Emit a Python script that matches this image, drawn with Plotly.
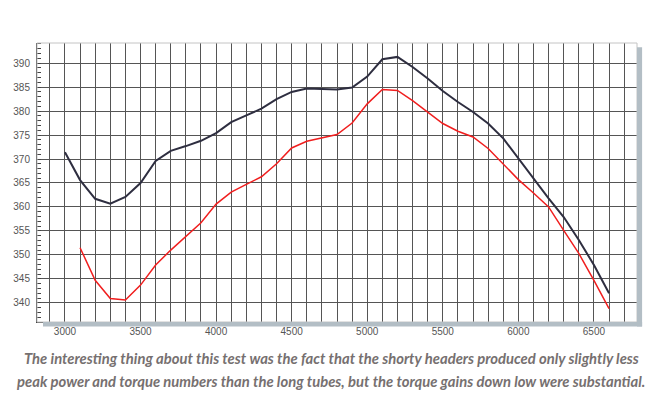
import plotly.graph_objects as go

rpm = list(range(3000, 6700, 100))
long_tube = [371.4, 365.6, 361.7, 360.7, 362.1, 365.0, 369.6, 371.7, 372.7, 373.8,
             375.4, 377.7, 379.1, 380.5, 382.5, 384.0, 384.7, 384.6, 384.5, 384.9,
             387.2, 390.8, 391.3, 389.2, 386.8, 384.2, 381.9, 379.8, 377.4, 374.3,
             370.1, 366.0, 361.8, 357.9, 353.1, 347.9, 342.0]
shorty_rpm = list(range(3100, 6700, 100))
shorty = [351.5, 344.7, 340.9, 340.6, 343.7, 347.9, 351.0, 353.9, 356.7,
          360.6, 363.1, 364.7, 366.3, 369.0, 372.3, 373.7, 374.4, 375.1, 377.5,
          381.5, 384.5, 384.3, 382.2, 379.8, 377.4, 375.8, 374.6, 372.2, 369.0,
          365.7, 362.9, 360.0, 355.1, 350.3, 344.7, 338.8]
x_ticks = [3000, 3500, 4000, 4500, 5000, 5500, 6000, 6500]
y_ticks = [340, 345, 350, 355, 360, 365, 370, 375, 380, 385, 390]
caption = ["The interesting thing about this test was the fact that the shorty headers produced only slightly less",
           "peak power and torque numbers than the long tubes, but the torque gains down low were substantial."]

fig = go.Figure()
fig.add_trace(go.Scatter(x=rpm, y=long_tube, mode="lines",
                         line=dict(color="#2e2e40", width=2), showlegend=False))
fig.add_trace(go.Scatter(x=shorty_rpm, y=shorty, mode="lines",
                         line=dict(color="#f01e1e", width=1.5), showlegend=False))

grid = "#555555"
fig.update_layout(
    width=669, height=400,
    margin=dict(l=37, r=32, t=43, b=78),
    paper_bgcolor="white", plot_bgcolor="white",
    xaxis=dict(range=[2815, 6785], tickvals=x_ticks, showgrid=True, gridcolor=grid, gridwidth=1,
               minor=dict(dtick=100, tick0=0, showgrid=True, gridcolor=grid, gridwidth=1),
               ticks="", showline=True, linecolor="#444", linewidth=1, zeroline=False,
               tickfont=dict(family="Liberation Sans, Arial", size=10, color="#555"),
               fixedrange=True),
    yaxis=dict(range=[336, 394.2], tickvals=y_ticks, showgrid=True, gridcolor=grid, gridwidth=1,
               ticks="", showline=True, linecolor="#333", linewidth=1, zeroline=False,
               minor=dict(dtick=1, tick0=0, ticks="inside", ticklen=4, tickcolor="#444", showgrid=False),
               tickfont=dict(family="Liberation Sans, Arial", size=10, color="#555"),
               ticklabelstandoff=4),
    shapes=[
        dict(type="rect", xref="paper", yref="paper", x0=0, x1=1, y0=0, y1=1,
             line=dict(color="#c4c4c4", width=1), layer="above"),
        dict(type="rect", xref="paper", yref="paper", x0=1.0, x1=1.0085, y0=-0.016, y1=0.985,
             line=dict(width=0), fillcolor="#b3bec5", layer="above"),
        dict(type="rect", xref="paper", yref="paper", x0=0.01, x1=1.0085, y0=-0.016, y1=0,
             line=dict(width=0), fillcolor="#b3bec5", layer="above"),
    ],
)
for i, line in enumerate(caption):
    fig.add_annotation(text="<b><i>" + line + "</i></b>", xref="paper", yref="paper",
                       x=0.49, y=0, yanchor="middle", xanchor="center",
                       yshift=-36 - 23 * i, showarrow=False,
                       font=dict(family="Lato, Open Sans", size=14.8, color="#767070"))

fig.write_html("out.html")
